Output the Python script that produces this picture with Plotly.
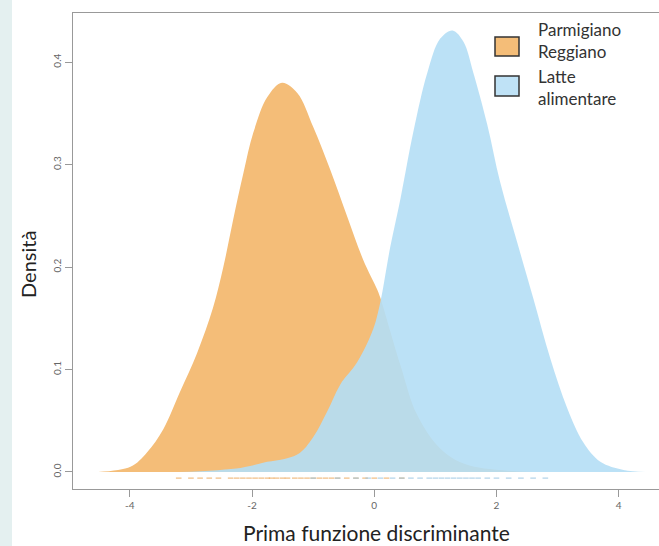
import plotly.graph_objects as go

# ---- data ----
pr_x = [-4.52, -3.99, -3.72, -3.45, -3.18, -2.90, -2.64, -2.47, -2.31, -2.14, -1.98, -1.75, -1.51,
        -1.26, -1.00, -0.72, -0.44, -0.18, 0.05, 0.10, 0.43, 0.70, 1.08, 1.52, 2.60]
pr_y = [0.000, 0.005, 0.019, 0.042, 0.078, 0.116, 0.160, 0.200, 0.246, 0.292, 0.331, 0.366, 0.380,
        0.370, 0.337, 0.295, 0.249, 0.207, 0.178, 0.170, 0.104, 0.056, 0.023, 0.007, 0.000]

la_x = [-3.18, -2.19, -1.82, -1.26, -1.00, -0.77, -0.56, -0.28, -0.02, 0.10, 0.26, 0.43, 0.64, 0.87,
        1.08, 1.28, 1.46, 1.62, 1.85, 2.06, 2.34, 2.60, 2.88, 3.16, 3.42, 3.70, 4.08, 4.44]
la_y = [0.000, 0.004, 0.009, 0.017, 0.034, 0.059, 0.085, 0.107, 0.139, 0.166, 0.219, 0.267, 0.332,
        0.390, 0.423, 0.431, 0.420, 0.390, 0.339, 0.283, 0.224, 0.170, 0.111, 0.062, 0.029, 0.010,
        0.002, 0.000]

pr_rug = [-3.2, -3.0, -2.85, -2.7, -2.55, -2.35, -2.25, -2.15, -2.05, -1.95, -1.85, -1.75, -1.68,
          -1.6, -1.5, -1.42, -1.3, -1.2, -1.1, -1.0, -0.9, -0.8, -0.7, -0.6, -0.45, -0.3, -0.15,
          0.0, 0.2, 0.45]
la_rug = [-1.0, -0.6, -0.3, -0.1, 0.1, 0.3, 0.45, 0.6, 0.75, 0.9, 1.0, 1.1, 1.2, 1.3, 1.4, 1.5,
          1.6, 1.7, 1.85, 2.0, 2.2, 2.4, 2.6, 2.8]

x_ticks = [-4, -2, 0, 2, 4]
y_ticks = [0.0, 0.1, 0.2, 0.3, 0.4]
y_tick_labels = ["0.0", "0.1", "0.2", "0.3", "0.4"]
series_names = ["Parmigiano<br>Reggiano", "Latte<br>alimentare"]

ORANGE = "#F4BD78"
BLUE = "rgba(180,222,245,0.9)"

fig = go.Figure()
fig.add_trace(go.Scatter(x=pr_x, y=pr_y, mode="lines", fill="tozeroy", fillcolor=ORANGE,
                         line=dict(width=0, shape="spline", smoothing=1.0, color=ORANGE),
                         showlegend=False, hoverinfo="skip"))
fig.add_trace(go.Scatter(x=la_x, y=la_y, mode="lines", fill="tozeroy", fillcolor=BLUE,
                         line=dict(width=0, shape="spline", smoothing=1.0, color=BLUE),
                         showlegend=False, hoverinfo="skip"))
fig.add_trace(go.Scatter(x=pr_rug, y=[-0.006] * len(pr_rug), mode="markers",
                         marker=dict(symbol="line-ew-open", size=4, color="rgba(235,165,85,0.6)",
                                     line=dict(width=1.5, color="rgba(235,165,85,0.6)")),
                         showlegend=False, hoverinfo="skip"))
fig.add_trace(go.Scatter(x=la_rug, y=[-0.006] * len(la_rug), mode="markers",
                         marker=dict(symbol="line-ew-open", size=4, color="rgba(150,195,225,0.6)",
                                     line=dict(width=1.5, color="rgba(150,195,225,0.6)")),
                         showlegend=False, hoverinfo="skip"))

W, H = 659, 546
L, R, T, B = 73, 0, 13, 57
pw, ph = W - L - R, H - T - B


def px2paper(px, py):
    return (px - L) / pw, (H - B - py) / ph


shapes = []
# left light strip
x0, _ = px2paper(0, 0)
x1, _ = px2paper(12, 0)
shapes.append(dict(type="rect", xref="paper", yref="paper", x0=x0, x1=x1, y0=-1, y1=2,
                   fillcolor="#E4F0F0", line=dict(width=0), layer="below"))
# legend squares
leg_colors = [ORANGE, "#BFE2F6"]
leg_boxes = [(495, 37, 519, 56), (495, 76, 519, 96)]
leg_text_centers = [40, 87]
for (a, b, c, d), col in zip(leg_boxes, leg_colors):
    xa, yb = px2paper(a, d)
    xc, yd = px2paper(c, b)
    shapes.append(dict(type="rect", xref="paper", yref="paper", x0=xa, x1=xc, y0=yb, y1=yd,
                       fillcolor=col, line=dict(width=1.5, color="#333333")))

annotations = []
for cy, name in zip(leg_text_centers, series_names):
    tx, ty = px2paper(536, cy)
    annotations.append(dict(text=name, xref="paper", yref="paper", x=tx, y=ty, xanchor="left",
                            yanchor="middle", align="left", showarrow=False,
                            font=dict(family="Lato", size=17, color="#333333")))
tx, ty = px2paper(376, 532)
annotations.append(dict(text="Prima funzione discriminante", xref="paper", yref="paper", x=tx, y=ty,
                        xanchor="center", yanchor="middle", showarrow=False,
                        font=dict(family="Lato", size=21, color="#222222")))
tx, ty = px2paper(28, 265)
annotations.append(dict(text="Densità", xref="paper", yref="paper", x=tx, y=ty, textangle=-90,
                        xanchor="center", yanchor="middle", showarrow=False,
                        font=dict(family="Lato", size=20, color="#222222")))

fig.update_layout(
    width=W, height=H,
    margin=dict(l=L, r=R, t=T, b=B, pad=0),
    paper_bgcolor="white", plot_bgcolor="white",
    shapes=shapes, annotations=annotations,
    xaxis=dict(range=[-4.93, 4.66], tickvals=x_ticks, ticktext=[str(v) for v in x_ticks],
               showgrid=False, zeroline=False, showline=True, mirror=True, linecolor="#999999",
               linewidth=1, ticks="outside", ticklen=7, tickcolor="#999999",
               tickfont=dict(family="Lato", size=10, color="#666666")),
    yaxis=dict(range=[-0.0166, 0.448], tickvals=y_ticks, ticktext=y_tick_labels,
               showgrid=False, zeroline=False, showline=True, mirror=True, linecolor="#999999",
               linewidth=1, ticks="outside", ticklen=7, tickcolor="#999999", tickangle=-90,
               tickfont=dict(family="Lato", size=10, color="#666666")),
)

fig.write_html("out.html", config={"displayModeBar": False},
               post_script="document.body.style.margin='0';document.body.style.overflow='hidden';")
